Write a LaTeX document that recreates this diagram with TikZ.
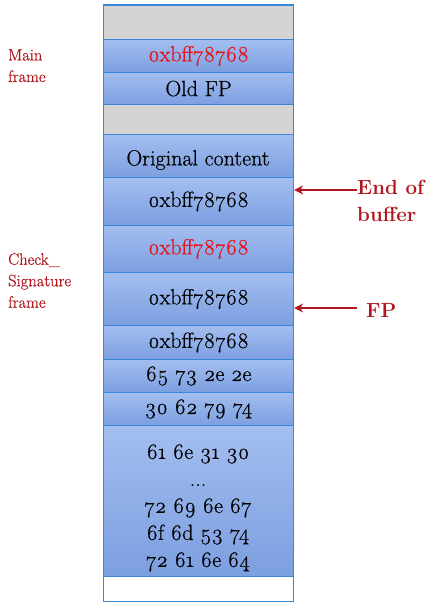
\documentclass[tikz,border=0pt]{standalone}
\usepackage{fontspec}
\setmainfont{Latin Modern Roman}[Numbers=OldStyle]
\newfontfamily\cellfont{Latin Modern Roman}[Numbers=OldStyle, FakeBold=0.6]
\usetikzlibrary{arrows.meta}
\definecolor{cellborder}{HTML}{3A86D8}
\definecolor{celltop}{HTML}{A3BEF0}
\definecolor{cellbot}{HTML}{7C9FE0}
\definecolor{grayfill}{HTML}{D4D4D4}
\definecolor{hotred}{HTML}{E8101A}
\definecolor{darkred}{HTML}{B0161C}
\tikzset{
  cell/.style={draw=cellborder, line width=1.1pt, top color=celltop, bottom color=cellbot,
    minimum width=190pt, inner sep=0pt, anchor=north west, font=\cellfont\fontsize{22}{27}\selectfont},
  graycell/.style={draw=cellborder, line width=1.1pt, fill=grayfill,
    minimum width=190pt, inner sep=0pt, anchor=north west},
  whitecell/.style={draw=cellborder, line width=1.1pt, fill=white,
    minimum width=190pt, inner sep=0pt, anchor=north west},
  sidelabel/.style={anchor=north west, align=left, text=darkred, inner sep=0pt,
    font=\cellfont\fontsize{16.5}{21.5}\selectfont},
  ptrlabel/.style={anchor=west, align=left, text=darkred, inner sep=0pt,
    font=\fontsize{20.5}{27}\selectfont\bfseries},
  ptr/.style={draw=darkred, line width=2.2pt, -{Stealth[length=9pt,width=9pt]}},
  celltext/.style={font=\cellfont\fontsize{22}{27}\selectfont, align=center, inner sep=0pt}
}
\begin{document}
\begin{tikzpicture}[x=1pt,y=-1pt]
\useasboundingbox (0,0) rectangle (429,602);
\node[graycell, minimum height=34.5pt] (r1) at (103,4.5) {};
\node[cell, minimum height=33pt, text=hotred] (r2) at (103,39) {0xbff78768};
\node[cell, minimum height=32pt] (r3) at (103,72) {Old FP};
\node[graycell, minimum height=30pt] (r4) at (103,104) {};
\node[cell, minimum height=43pt] (r5) at (103,134) {};
\node[celltext] (t5) at (198,160) {Original content};
\node[cell, minimum height=48pt] (r6) at (103,177) {0xbff78768};
\node[cell, minimum height=47pt, text=hotred] (r7) at (103,225) {0xbff78768};
\node[cell, minimum height=53pt] (r8) at (103,272) {0xbff78768};
\node[cell, minimum height=34pt] (r9) at (103,325) {0xbff78768};
\node[cell, minimum height=33pt] (r10) at (103,359) {65 73 2e 2e};
\node[cell, minimum height=33pt] (r11) at (103,392) {30 62 79 74};
\node[cell, minimum height=151pt] (r12) at (103,425) {};
\node[celltext] (t12) at (198,508) {61 6e 31 30\\...\\72 69 6e 67\\6f 6d 53 74\\72 61 6e 64};
\node[whitecell, minimum height=25pt] (r13) at (103,576) {};

\node[sidelabel] (mainlbl) at (8,49) {Main\\frame};
\node[sidelabel] (chklbl) at (8,253) {Check\_\\Signature\\frame};

\coordinate (eobstart) at (357,190);
\coordinate (fpstart) at (357,308);
\draw[ptr] (eobstart) -- (eobstart -| r6.east);
\draw[ptr] (fpstart) -- (fpstart -| r8.east);
\node[ptrlabel] (eoblbl) at (357,201) {End of\\buffer};
\node[ptrlabel] (fplbl) at (366,310) {FP};
\end{tikzpicture}
\end{document}
